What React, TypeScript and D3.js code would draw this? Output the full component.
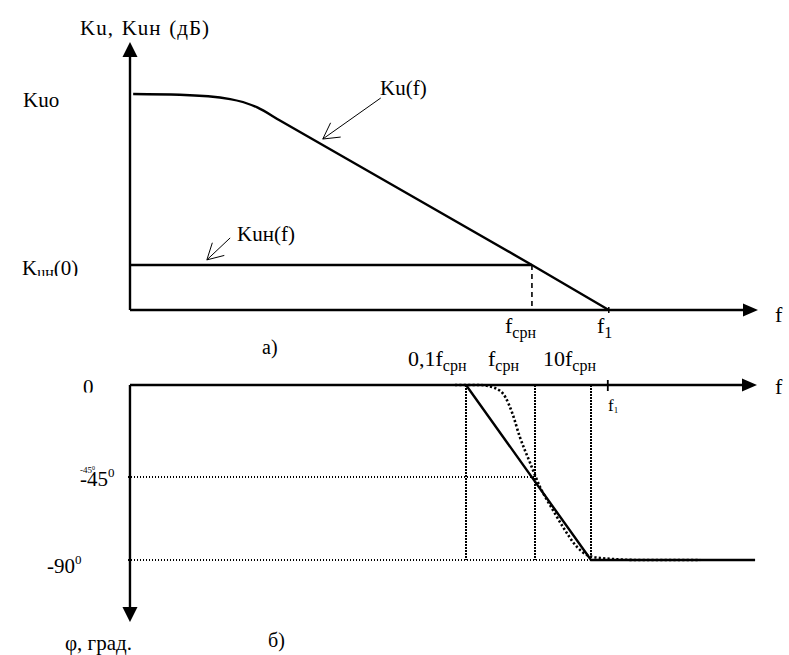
import React from "react";
import * as d3 from "d3";

// --- a) amplitude response, arbitrary units (x: 0..100 along axis, y: dB-ish 0..100)
const kuCurve: [number, number][] = [
  [0.5, 80.6], [7.9, 80.3], [15.9, 78.7], [20.2, 75.6], [23.8, 70.7],
  [63.8, 16.8], [76, 0],
];
const kunLevel = 16.8;
const fCrossTop = 63.8;
const f1Top = 76;

// --- б) phase response, x in decades around fсрн, y in degrees
const phaseAsymptote: [number, number][] = [[-1, 0], [1, -90], [3.93, -90]];
const phaseExact: [number, number][] = [
  [-1.16, 0], [-0.8, 0], [-0.58, -1.5], [-0.43, -5.9], [-0.33, -13.7],
  [-0.22, -25.4], [-0.07, -38.2], [0.09, -50.4], [0.32, -62.9], [0.5, -72.1],
  [0.75, -82.9], [0.93, -87.3], [1.16, -88.9], [1.88, -90], [2.95, -90],
];
const phaseMarks = [-1, 0, 1];
const phaseLevels = [-45, -90];
const f1Bot = 1.3;

const FONT = "'Liberation Serif', 'Times New Roman', serif";

// open arrow used for the curve call-outs
function callout(tip: [number, number], tail: [number, number]) {
  const ang = Math.atan2(tail[1] - tip[1], tail[0] - tip[0]);
  const len = 18, spread = (29 * Math.PI) / 180;
  const b1 = [tip[0] + len * Math.cos(ang - spread), tip[1] + len * Math.sin(ang - spread)];
  const b2 = [tip[0] + len * Math.cos(ang + spread), tip[1] + len * Math.sin(ang + spread)];
  return `M${tail[0]},${tail[1]}L${tip[0]},${tip[1]}M${b1[0]},${b1[1]}L${tip[0]},${tip[1]}L${b2[0]},${b2[1]}`;
}

const arrowRight = (x: number, y: number) => `M${x},${y}L${x - 15},${y - 6.5}L${x - 15},${y + 6.5}Z`;
const arrowUp = (x: number, y: number) => `M${x},${y}L${x - 7.5},${y + 15}L${x + 7.5},${y + 15}Z`;
const arrowDown = (x: number, y: number) => `M${x},${y}L${x - 7.5},${y - 15}L${x + 7.5},${y - 15}Z`;

export default function App() {
  const xTop = d3.scaleLinear().domain([0, 100]).range([130, 760]);
  const yTop = d3.scaleLinear().domain([0, 100]).range([310, 42]);

  const xBot = d3.scaleLinear().domain([-1, 0, 1]).range([466, 535, 591]);
  const yBot = d3.scaleLinear().domain([0, -45, -90]).range([385, 477, 560]);
  const botXMin = -5.87, botXMax = 4.0, botYMin = -123.6;

  const lineTop = d3.line<[number, number]>().x(d => xTop(d[0])).y(d => yTop(d[1])).curve(d3.curveMonotoneX);
  const lineBot = d3.line<[number, number]>().x(d => xBot(d[0])).y(d => yBot(d[1]));
  const lineBotSmooth = d3.line<[number, number]>().x(d => xBot(d[0])).y(d => yBot(d[1])).curve(d3.curveMonotoneX);

  const tp = (x: number, y: number): [number, number] => [xTop(x), yTop(y)];

  return (
    <svg width={789} height={655} style={{ position: "absolute", left: 0, top: 0, background: "#fff" }}
      fontFamily={FONT} fill="#000">
      <defs>
        <clipPath id="clipKun"><rect x={0} y={0} width={120} height={276} /></clipPath>
        <clipPath id="clipZero"><rect x={0} y={360} width={120} height={32.5} /></clipPath>
      </defs>

      {/* ---------- a) ---------- */}
      <g stroke="#000" strokeWidth={2.4} fill="none">
        <line x1={xTop(0)} y1={yTop(0)} x2={xTop(0)} y2={yTop(100) + 10} />
        <line x1={xTop(0)} y1={yTop(0)} x2={xTop(100) - 10} y2={yTop(0)} />
        <path d={lineTop(kuCurve) ?? ""} />
        <line x1={xTop(0)} y1={yTop(kunLevel)} x2={xTop(fCrossTop)} y2={yTop(kunLevel)} />
        <line x1={xTop(fCrossTop)} y1={yTop(kunLevel)} x2={xTop(fCrossTop)} y2={yTop(0)}
          strokeWidth={1.6} strokeDasharray="5,4" />
        <line x1={xTop(f1Top)} y1={yTop(0) - 3} x2={xTop(f1Top)} y2={yTop(0) + 3} strokeWidth={1.5} />
      </g>
      <path d={arrowUp(xTop(0), yTop(100))} />
      <path d={arrowRight(xTop(100) - 2, yTop(0))} />
      <g stroke="#000" strokeWidth={1} fill="none">
        <path d={callout(tp(30.6, 63.8), tp(39.8, 79.1))} />
        <path d={callout(tp(12.2, 18.7), tp(15.9, 26.9))} />
      </g>

      <g fontSize={21}>
        <text x={80} y={35} wordSpacing={1.5} letterSpacing={1}>Ku, Kuн (дБ)</text>
        <text x={23} y={107}>Kuo</text>
        <text x={380} y={95}>Ku(f)</text>
        <text x={237} y={241}>Kuн(f)</text>
        <text x={22} y={275} clipPath="url(#clipKun)">
          K<tspan fontSize={16} dy={3}>uн</tspan><tspan fontSize={21} dy={-3}>(0)</tspan>
        </text>
        <text x={775} y={322} fontSize={22}>f</text>
        <text x={505} y={333} fontSize={22}>f<tspan fontSize={16} dy={5}>срн</tspan></text>
        <text x={597} y={333} fontSize={22}>f<tspan fontSize={16} dy={5}>1</tspan></text>
        <text x={262} y={354} fontSize={20}>а)</text>
      </g>

      {/* ---------- б) ---------- */}
      <g stroke="#000" strokeWidth={1.2} strokeDasharray="1.5,1.5" fill="none" shapeRendering="crispEdges">
        {phaseMarks.map(m => (
          <line key={m} x1={xBot(m)} y1={yBot(0)} x2={xBot(m)} y2={yBot(-90)} />
        ))}
        {phaseLevels.map(l => (
          <line key={l} x1={xBot(botXMin) - 2} y1={yBot(l)} x2={xBot(l === -45 ? 0 : 1)} y2={yBot(l)} />
        ))}
      </g>
      <g stroke="#000" strokeWidth={2.4} fill="none">
        <line x1={xBot(botXMin)} y1={yBot(0)} x2={xBot(botXMin)} y2={yBot(botYMin) - 10} />
        <line x1={xBot(botXMin)} y1={yBot(0)} x2={xBot(botXMax) - 10} y2={yBot(0)} />
        <path d={lineBot(phaseAsymptote) ?? ""} />
        <path d={lineBotSmooth(phaseExact) ?? ""} strokeWidth={2.6} strokeDasharray="2.2,2.2" />
        <line x1={xBot(f1Bot)} y1={yBot(0) - 5} x2={xBot(f1Bot)} y2={yBot(0) + 6} strokeWidth={1.8} />
      </g>
      <path d={arrowRight(xBot(botXMax) - 2, yBot(0))} />
      <path d={arrowDown(xBot(botXMin), yBot(botYMin))} />

      <g fontSize={21}>
        <text x={408} y={366} fontSize={22}>0,1f<tspan fontSize={16} dy={5}>срн</tspan></text>
        <text x={488} y={366} fontSize={22}>f<tspan fontSize={16} dy={5}>срн</tspan></text>
        <text x={543} y={366} fontSize={22}>10f<tspan fontSize={16} dy={5}>срн</tspan></text>
        <text x={775} y={394} fontSize={22}>f</text>
        <text x={608} y={411} fontSize={17}>f<tspan fontSize={9} dy={2}>1</tspan></text>
        <text x={83} y={394} clipPath="url(#clipZero)">0</text>
        <text x={80} y={473} fontSize={9}>-45<tspan fontSize={6} dy={-3}>0</tspan></text>
        <text x={80} y={486}>-45<tspan fontSize={13} dy={-9}>0</tspan></text>
        <text x={47} y={573}>-90<tspan fontSize={13} dy={-9}>0</tspan></text>
        <text x={65} y={650}>φ, град.</text>
        <text x={268} y={647} fontSize={20}>б)</text>
      </g>
    </svg>
  );
}
